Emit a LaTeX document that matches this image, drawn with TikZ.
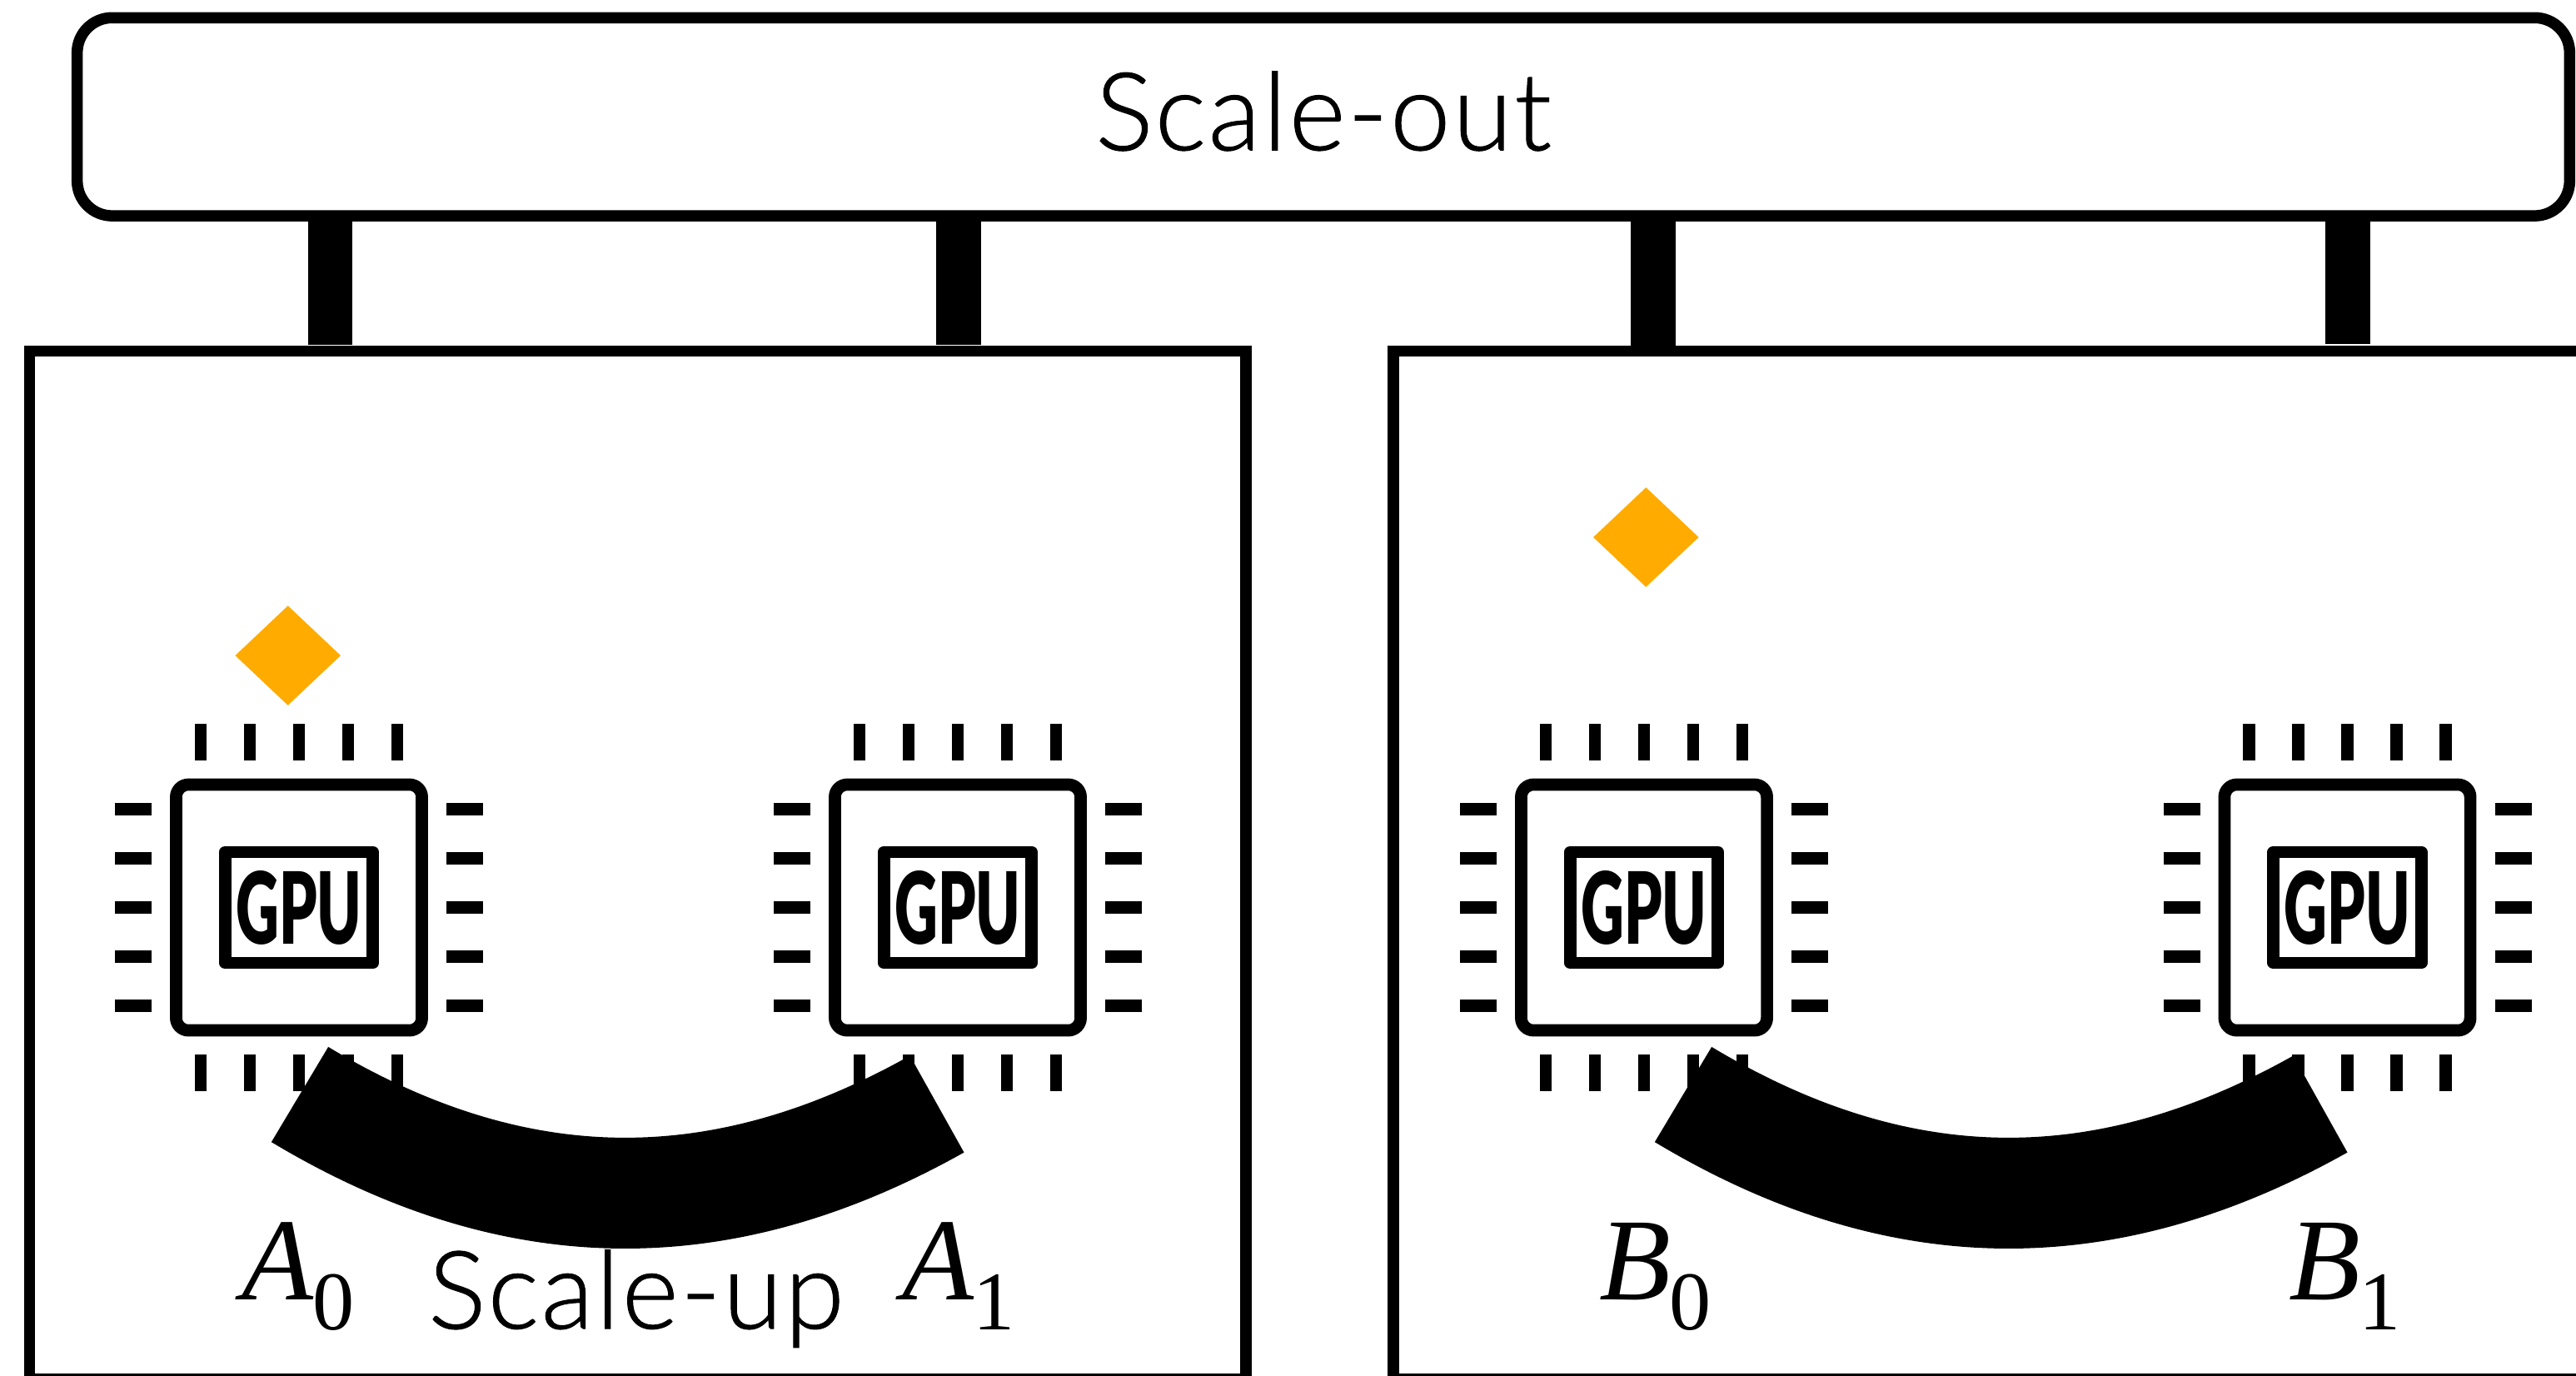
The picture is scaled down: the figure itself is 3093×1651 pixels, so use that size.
\documentclass[tikz,border=0pt]{standalone}
\usepackage{fontspec}
\usepackage{graphicx}
\usetikzlibrary{shapes.geometric}
\setmainfont{Liberation Serif}
\newfontfamily\sizefont[LetterSpace=2,FakeBold=0.8]{Lato Light}
\newfontfamily\gpufont{Lato Black}
\definecolor{leadorange}{HTML}{FFAB00}
\tikzset{
  frame/.style={draw,line width=0.135cm,inner sep=0pt},
  chipbody/.style={draw,line width=0.147cm,minimum size=2.95cm,inner sep=0pt,rounded corners=0.15cm},
  diebox/.style={draw,line width=0.147cm,minimum width=1.775cm,minimum height=1.33cm,inner sep=0pt,line join=round},
  chippin/.style={line width=0.147cm},
  outbar/.style={line width=0.535cm},
  upbar/.style={line width=1.33cm},
  leadmark/.style={diamond,fill=leadorange,minimum width=1.27cm,minimum height=1.2cm,inner sep=0pt},
  chipname/.style={anchor=base west,inner sep=0pt},
  sizename/.style={font=\fontsize{37}{40}\sizefont,inner sep=0pt}
}
\newcommand{\gputext}{\scalebox{0.6}[1]{\fontsize{34}{36}\gpufont GPU}}
\newcommand{\chipname}[2]{\fontsize{40}{40}\selectfont\textit{#1}\kern-0.6pt\raisebox{-10.5pt}{\fontsize{28.5}{30}\selectfont #2}}
\newcommand{\gpuchip}[2]{%
  \node[chipbody] (#1) at (#2,1089.5) {};
  \node[diebox] (#1die) at (#1) {\gputext};
  \foreach \p in {-118,-59,0,59,118} {
    \draw[chippin] ([shift={(\p,-220.5)}]#1.center) -- ([shift={(\p,-176.5)}]#1.center);
    \draw[chippin] ([shift={(\p,176.5)}]#1.center) -- ([shift={(\p,220.5)}]#1.center);
    \draw[chippin] ([shift={(-221,\p)}]#1.center) -- ([shift={(-177,\p)}]#1.center);
    \draw[chippin] ([shift={(177,\p)}]#1.center) -- ([shift={(221,\p)}]#1.center);
  }
}
\begin{document}
\begin{tikzpicture}[x=0.01cm,y=-0.01cm]
\clip (0,0) rectangle (3093,1651);
% Scale-out switch and the two servers
\node[frame,rounded corners=0.42cm,minimum width=29.91cm,minimum height=2.377cm,sizename,text height=0.97cm,text depth=0.17cm] (scaleout) at (1589,140.2) {Scale-out};
\node[frame,minimum width=14.597cm,minimum height=12.33cm] (serverA) at (765.85,1038.5) {};
\node[frame,minimum width=15.267cm,minimum height=12.33cm] (serverB) at (2436.65,1038.5) {};
% Scale-out links
\coordinate (a0top) at (396.5,414);
\coordinate (a1top) at (1151,414);
\coordinate (b0top) at (1985.2,418);
\coordinate (b1top) at (2818.8,413);
\draw[outbar] (scaleout.south -| a0top) -- (a0top);
\draw[outbar] (scaleout.south -| a1top) -- (a1top);
\draw[outbar] (scaleout.south -| b0top) -- (b0top);
\draw[outbar] (scaleout.south -| b1top) -- (b1top);
% GPUs
\gpuchip{a0}{359}
\gpuchip{a1}{1150}
\gpuchip{b0}{1974}
\gpuchip{b1}{2818.5}
\node[leadmark] (leadA) at (345.7,787) {};
\node[leadmark] (leadB) at (1976.3,645) {};
% Scale-up links
\coordinate (a0end) at (360,1314);
\coordinate (a1end) at (1125,1325.5);
\coordinate (b0end) at (2021,1314);
\coordinate (b1end) at (2786,1325.5);
\draw[upbar] (a0end) .. controls +(250,150) and +(-267,150) .. (a1end);
\draw[upbar] (b0end) .. controls +(250,150) and +(-267,150) .. (b1end);
% Labels
\node[chipname] (a0name) at (290,1560) {\chipname{A}{0}};
\node[chipname] (a1name) at (1083,1560) {\chipname{A}{1}};
\node[chipname] (b0name) at (1920,1560) {\chipname{B}{0}};
\node[chipname] (b1name) at (2748,1560) {\chipname{B}{1}};
\node[sizename,anchor=base] (scaleup) at (764,1595) {Scale-up};
\end{tikzpicture}
\end{document}
